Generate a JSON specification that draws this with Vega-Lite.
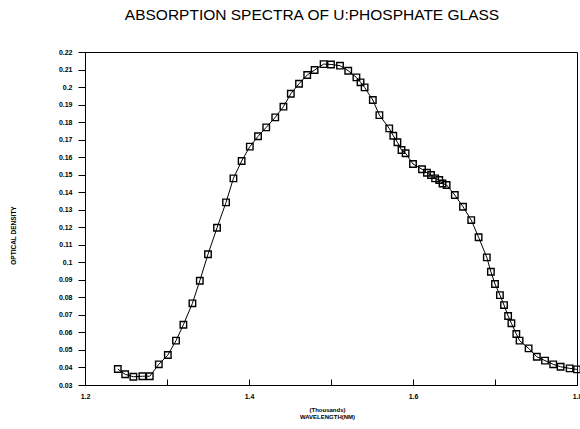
{
  "$schema": "https://vega.github.io/schema/vega-lite/v6.json",
  "autosize": {"type": "none"},
  "width": 492,
  "height": 333,
  "padding": {"left": 85, "top": 52, "right": 3, "bottom": 44},
  "background": "white",
  "view": {"stroke": "black", "strokeWidth": 1},
  "title": {
    "text": "ABSORPTION SPECTRA OF U:PHOSPHATE GLASS",
    "font": "Liberation Sans",
    "fontSize": 15.5,
    "fontWeight": "normal",
    "color": "black",
    "anchor": "middle",
    "frame": "group",
    "dx": -19,
    "offset": 25
  },
  "data": {
    "values": [
      {"x": 1.240, "y": 0.0391}, {"x": 1.249, "y": 0.0361}, {"x": 1.259, "y": 0.0347},
      {"x": 1.270, "y": 0.0350}, {"x": 1.279, "y": 0.0350}, {"x": 1.290, "y": 0.0418},
      {"x": 1.301, "y": 0.0471}, {"x": 1.311, "y": 0.0553}, {"x": 1.320, "y": 0.0644},
      {"x": 1.331, "y": 0.0766}, {"x": 1.340, "y": 0.0895}, {"x": 1.350, "y": 0.1046},
      {"x": 1.361, "y": 0.1197}, {"x": 1.372, "y": 0.1342}, {"x": 1.381, "y": 0.1479},
      {"x": 1.391, "y": 0.1578}, {"x": 1.401, "y": 0.1660}, {"x": 1.411, "y": 0.1719},
      {"x": 1.421, "y": 0.1770}, {"x": 1.432, "y": 0.1827}, {"x": 1.442, "y": 0.1888},
      {"x": 1.451, "y": 0.1962}, {"x": 1.461, "y": 0.2019}, {"x": 1.471, "y": 0.2069},
      {"x": 1.480, "y": 0.2097}, {"x": 1.491, "y": 0.2131}, {"x": 1.500, "y": 0.2129},
      {"x": 1.511, "y": 0.2122}, {"x": 1.521, "y": 0.2093}, {"x": 1.531, "y": 0.2055},
      {"x": 1.536, "y": 0.2027}, {"x": 1.541, "y": 0.1998}, {"x": 1.551, "y": 0.1926},
      {"x": 1.559, "y": 0.1840}, {"x": 1.571, "y": 0.1764}, {"x": 1.576, "y": 0.1722},
      {"x": 1.581, "y": 0.1685}, {"x": 1.586, "y": 0.1641}, {"x": 1.591, "y": 0.1622},
      {"x": 1.600, "y": 0.1561}, {"x": 1.611, "y": 0.1531}, {"x": 1.617, "y": 0.1511},
      {"x": 1.622, "y": 0.1498}, {"x": 1.627, "y": 0.1479}, {"x": 1.632, "y": 0.1470},
      {"x": 1.636, "y": 0.1450}, {"x": 1.641, "y": 0.1441}, {"x": 1.651, "y": 0.1384},
      {"x": 1.661, "y": 0.1317}, {"x": 1.671, "y": 0.1241}, {"x": 1.680, "y": 0.1143},
      {"x": 1.690, "y": 0.1028}, {"x": 1.695, "y": 0.0946}, {"x": 1.700, "y": 0.0876},
      {"x": 1.706, "y": 0.0813}, {"x": 1.711, "y": 0.0756}, {"x": 1.716, "y": 0.0694},
      {"x": 1.720, "y": 0.0652}, {"x": 1.726, "y": 0.0591}, {"x": 1.730, "y": 0.0553},
      {"x": 1.741, "y": 0.0509}, {"x": 1.751, "y": 0.0461}, {"x": 1.761, "y": 0.0439},
      {"x": 1.771, "y": 0.0418}, {"x": 1.780, "y": 0.0404}, {"x": 1.791, "y": 0.0395},
      {"x": 1.800, "y": 0.0389}
    ]
  },
  "encoding": {
    "x": {
      "field": "x",
      "type": "quantitative",
      "scale": {"domain": [1.2, 1.8], "nice": false, "zero": false},
      "axis": {
        "values": [1.2, 1.3, 1.4, 1.5, 1.6, 1.7, 1.8],
        "labelExpr": "round(datum.value*10)%2==0 ? format(datum.value,'.1f') : ''",
        "grid": false,
        "domainColor": "black",
        "tickColor": "black",
        "tickSize": -6,
        "labelPadding": 13,
        "labelFont": "Liberation Sans",
        "labelFontSize": 7,
        "labelFontWeight": "bold",
        "labelColor": "black",
        "labelFlush": false,
        "title": ["(Thousands)", "WAVELENGTH(NM)"],
        "titleFont": "Liberation Sans",
        "titleFontSize": 6,
        "titleFontWeight": "bold",
        "titleLineHeight": 7,
        "titleColor": "black",
        "titlePadding": 7,
        "titleX": 242
      }
    },
    "y": {
      "field": "y",
      "type": "quantitative",
      "scale": {"domain": [0.03, 0.22], "nice": false, "zero": false},
      "axis": {
        "values": [0.03, 0.04, 0.05, 0.06, 0.07, 0.08, 0.09, 0.1, 0.11, 0.12, 0.13, 0.14, 0.15, 0.16, 0.17, 0.18, 0.19, 0.2, 0.21, 0.22],
        "format": ".2~f",
        "grid": false,
        "domainColor": "black",
        "tickColor": "black",
        "tickSize": 7,
        "labelPadding": 6,
        "labelFont": "Liberation Sans",
        "labelFontSize": 7,
        "labelFontWeight": "bold",
        "labelColor": "black",
        "labelFlush": false,
        "title": "OPTICAL DENSITY",
        "titleFont": "Liberation Sans",
        "titleFontSize": 6.5,
        "titleFontWeight": "bold",
        "titleColor": "black",
        "titleX": -72,
        "titleY": 183,
        "titleAngle": -90,
        "titleBaseline": "middle",
        "titleAlign": "center"
      }
    }
  },
  "layer": [
    {"mark": {"type": "line", "color": "black", "strokeWidth": 1}},
    {"mark": {"type": "point", "shape": "square", "filled": false, "stroke": "black", "strokeWidth": 1.4, "size": 42, "opacity": 1}}
  ]
}
